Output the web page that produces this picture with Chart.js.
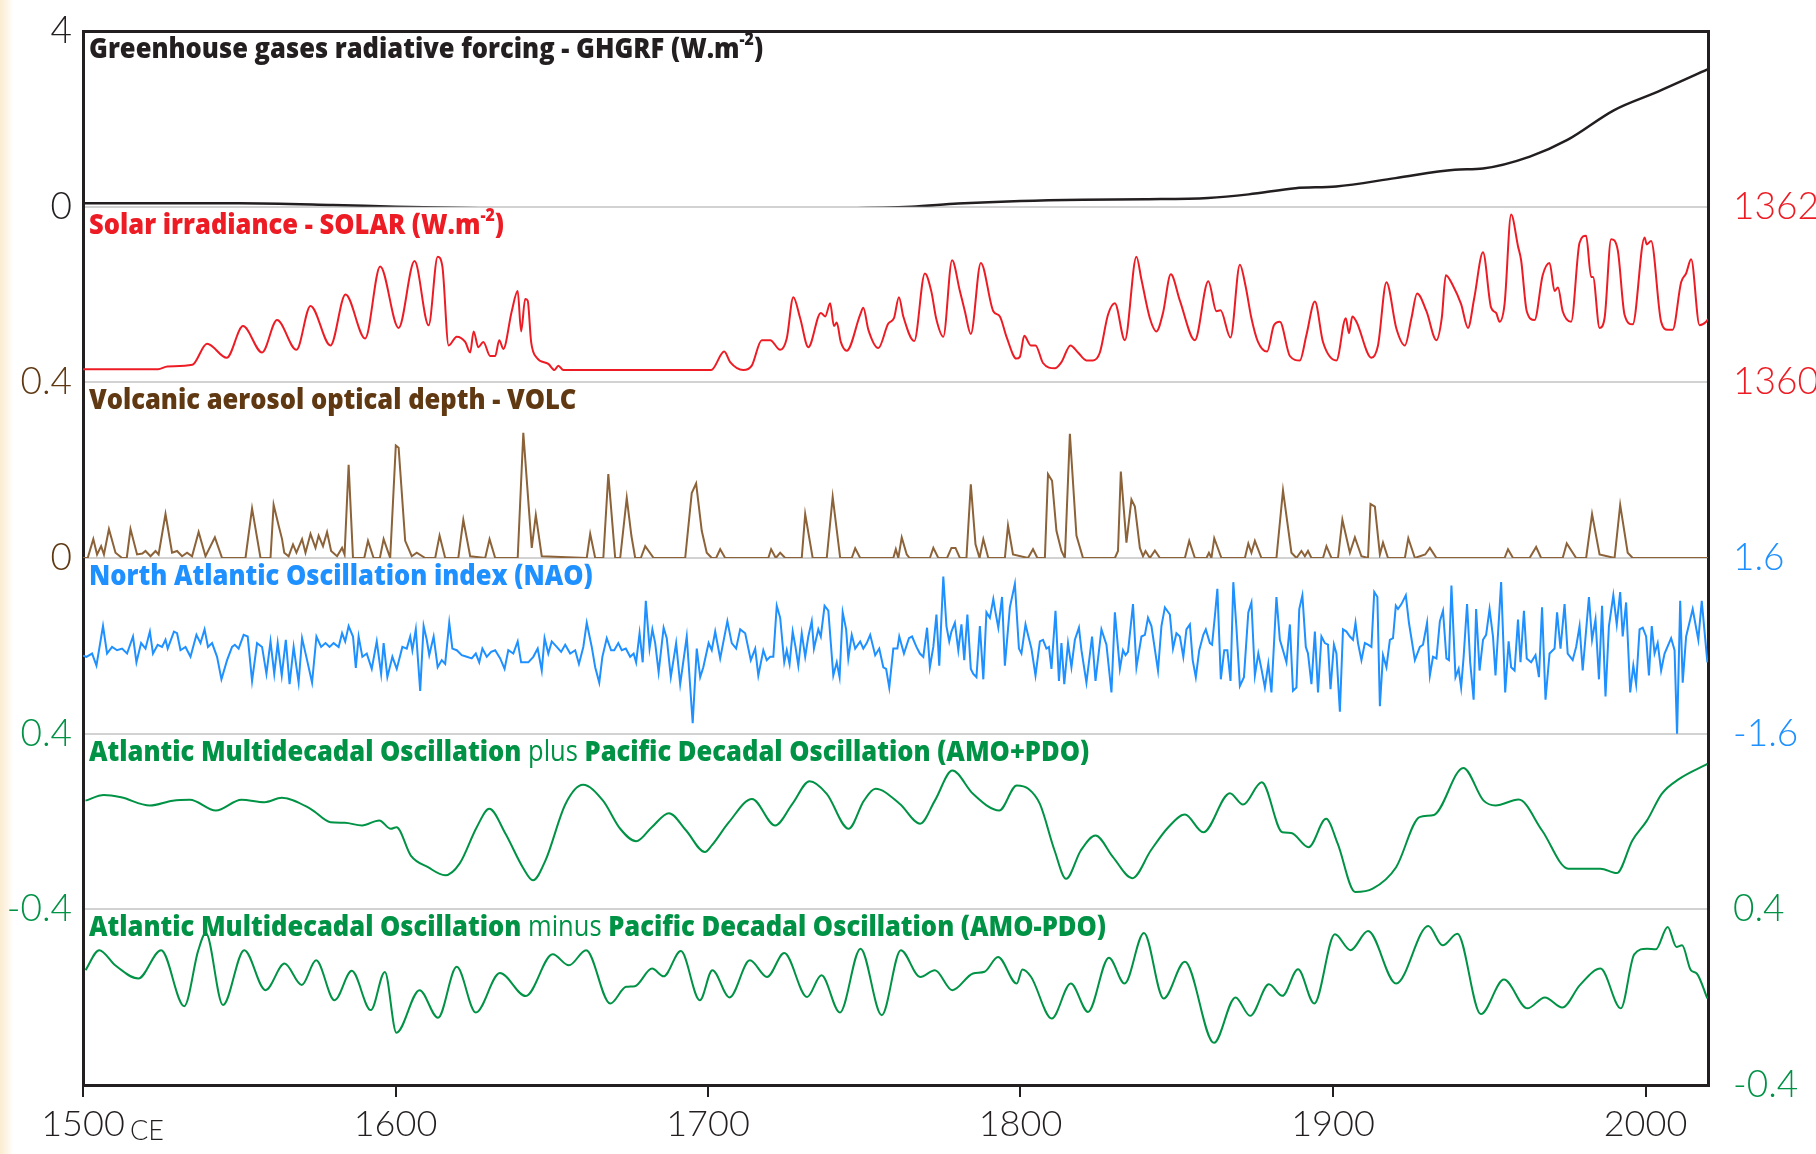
<!DOCTYPE html>
<html>
<head>
<meta charset="utf-8">
<script src="https://cdn.jsdelivr.net/npm/chart.js@4.4.1/dist/chart.umd.min.js"></script>
<style>
  html, body { margin: 0; padding: 0; }
  body {
    width: 1816px; height: 1154px; overflow: hidden;
    background: linear-gradient(to right, #fbecd0 0px, #fdf5e6 7px, #ffffff 13px);
  }
  canvas { display: block; }
</style>
</head>
<body>
<canvas id="chart" width="1816" height="1154"></canvas>
<script>
// x axis ticks
const xTickYears = [1500, 1600, 1700, 1800, 1900, 2000];

// greenhouse gases radiative forcing (W/m2)
const ghgYears = [1500, 1520, 1550, 1580, 1600, 1630, 1660, 1700, 1740, 1765, 1780, 1800, 1820, 1840, 1860, 1873, 1888, 1901, 1920, 1939, 1948, 1963, 1975, 1990, 2004, 2020];
const ghgValues = [0.08, 0.08, 0.08, 0.04, 0.0, -0.04, -0.05, -0.05, -0.04, 0.0, 0.07, 0.13, 0.16, 0.17, 0.2, 0.28, 0.42, 0.46, 0.65, 0.84, 0.87, 1.14, 1.52, 2.2, 2.62, 3.13];

// solar irradiance (W/m2)
const solarYears = [
  1500, 1510, 1524, 1527, 1535, 1539.7, 1546, 1551.2, 1557.3, 1562.1,
  1568.3, 1572.8, 1579.2, 1584, 1590.3, 1595.1, 1601, 1606.1, 1610.6, 1613.5,
  1615, 1617, 1619.6, 1622.3, 1623.9, 1625, 1626.5, 1628.1, 1630.3, 1631.9,
  1633.2, 1634.5, 1637.2, 1639.1, 1640.2, 1641.5, 1642.3, 1643.4, 1645.2, 1648.9,
  1650.9, 1652.1, 1653.7, 1680, 1701, 1705.2, 1707.1, 1711.3, 1714, 1717.2,
  1719.9, 1723.1, 1725.2, 1727.3, 1729.5, 1732.1, 1736.1, 1737.5, 1739.1, 1740.3,
  1741.2, 1742.5, 1744.4, 1748.7, 1749.7, 1751.3, 1754.5, 1757.7, 1759.5, 1761.1,
  1762.5, 1766, 1769.4, 1771.5, 1773, 1775.3, 1778.1, 1780.6, 1782.2, 1784.1,
  1787.3, 1791.3, 1793.4, 1795.5, 1798.7, 1799.8, 1801.2, 1803.3, 1804.8, 1807.2,
  1811, 1813.1, 1816, 1818.4, 1821.1, 1823.2, 1825.4, 1828, 1830.2, 1833.4,
  1837.1, 1838.7, 1841.4, 1843.5, 1845.6, 1848.1, 1851, 1855.8, 1860.1, 1862.7,
  1864, 1867.2, 1870.2, 1872, 1873.9, 1876, 1878.9, 1881.1, 1883, 1886.2,
  1889.4, 1891.5, 1894.2, 1896.8, 1901.1, 1904.1, 1905.1, 1906.2, 1907.5, 1912.3,
  1914.4, 1917.1, 1920.3, 1923, 1925.1, 1926.9, 1929.9, 1933.1, 1934.8, 1936.1,
  1938.4, 1941, 1943.2, 1945.2, 1948, 1950.6, 1952.2, 1953.3, 1954.9, 1957,
  1959.2, 1960.2, 1962, 1964.5, 1967.1, 1969.3, 1970.9, 1972, 1973.5, 1976.2,
  1978.9, 1981, 1982.6, 1983.2, 1985.3, 1986.9, 1989, 1991.1, 1993.3, 1995.9,
  1999.7, 2000.4, 2001.8, 2005, 2007.1, 2008.7, 2011.4, 2013, 2014.6, 2017.3,
  2019.4, 2020
];
const solarValues = [
  1360.15, 1360.15, 1360.15, 1360.18, 1360.2, 1360.44, 1360.28, 1360.64, 1360.34, 1360.71,
  1360.37, 1360.87, 1360.42, 1361.0, 1360.5, 1361.32, 1360.62, 1361.38, 1360.65, 1361.43,
  1361.32, 1360.42, 1360.52, 1360.46, 1360.34, 1360.58, 1360.4, 1360.46, 1360.3, 1360.3,
  1360.48, 1360.38, 1360.81, 1361.04, 1360.58, 1360.95, 1360.93, 1360.46, 1360.28, 1360.21,
  1360.14, 1360.19, 1360.14, 1360.14, 1360.14, 1360.35, 1360.23, 1360.14, 1360.19, 1360.48,
  1360.48, 1360.37, 1360.5, 1360.97, 1360.73, 1360.4, 1360.79, 1360.75, 1360.9, 1360.64,
  1360.68, 1360.46, 1360.36, 1360.77, 1360.85, 1360.6, 1360.39, 1360.67, 1360.73, 1360.97,
  1360.75, 1360.47, 1361.24, 1361.03, 1360.73, 1360.52, 1361.39, 1361.04, 1360.81, 1360.55,
  1361.36, 1360.81, 1360.75, 1360.52, 1360.27, 1360.29, 1360.53, 1360.42, 1360.42, 1360.22,
  1360.16, 1360.23, 1360.42, 1360.34, 1360.25, 1360.25, 1360.34, 1360.77, 1360.9, 1360.48,
  1361.43, 1361.17, 1360.73, 1360.58, 1360.79, 1361.23, 1360.93, 1360.48, 1361.15, 1360.81,
  1360.82, 1360.51, 1361.34, 1361.1, 1360.73, 1360.46, 1360.35, 1360.65, 1360.69, 1360.3,
  1360.25, 1360.54, 1360.92, 1360.46, 1360.25, 1360.73, 1360.56, 1360.75, 1360.69, 1360.28,
  1360.42, 1361.14, 1360.61, 1360.42, 1360.73, 1361.01, 1360.81, 1360.48, 1360.73, 1361.22,
  1361.1, 1360.89, 1360.62, 1360.96, 1361.48, 1360.85, 1360.79, 1360.69, 1360.89, 1361.91,
  1361.55, 1361.39, 1360.81, 1360.71, 1361.22, 1361.36, 1361.04, 1361.08, 1360.81, 1360.69,
  1361.59, 1361.67, 1361.2, 1361.2, 1360.62, 1360.73, 1361.63, 1361.51, 1360.77, 1360.66,
  1361.65, 1361.57, 1361.61, 1360.69, 1360.6, 1360.6, 1361.14, 1361.24, 1361.4, 1360.65,
  1360.69, 1360.72
];

// volcanic aerosol optical depth
const volcYears = [
  1500, 1501.5, 1503.3, 1504.5, 1505.8, 1506.7, 1508.3, 1510.4, 1512.5, 1514,
  1515.2, 1517.3, 1519, 1520, 1521.6, 1523.2, 1524.2, 1526.4, 1528.5, 1530.1,
  1531.7, 1533.3, 1534.9, 1537, 1539.2, 1542.2, 1544.5, 1552, 1554.1, 1556.8,
  1560, 1561, 1562.6, 1563.7, 1564.4, 1565.8, 1567.2, 1568.3, 1570.1, 1571.2,
  1572.8, 1574.4, 1575.4, 1576.8, 1578.1, 1579.4, 1581.3, 1582.9, 1583.7, 1585,
  1586.4, 1590, 1591.2, 1593, 1595, 1596.2, 1598.3, 1600.1, 1601, 1603.1,
  1605.2, 1606.8, 1609.5, 1612.7, 1614.1, 1615.9, 1620.1, 1621.7, 1623.9, 1628.7,
  1630.1, 1631.9, 1639.1, 1640.9, 1643.6, 1644.9, 1646.8, 1661.2, 1662.3, 1663.9,
  1666.5, 1668.1, 1670.3, 1671.9, 1674, 1675.5, 1676.7, 1678.5, 1679.9, 1682.6,
  1692.7, 1694.8, 1696.2, 1698, 1699.6, 1701.2, 1702.6, 1703.9, 1705.5, 1719.3,
  1720.2, 1721.7, 1723.1, 1724.7, 1730, 1731.1, 1733.5, 1738, 1739.9, 1742.3,
  1746, 1747.1, 1748.7, 1759.3, 1760.1, 1760.9, 1762, 1763.6, 1764.5, 1771,
  1772.1, 1773.7, 1776.5, 1777.9, 1779.2, 1780.6, 1782.7, 1784.1, 1785.6, 1786.9,
  1788.1, 1789.7, 1795, 1796, 1797.6, 1802.4, 1804, 1805.4, 1807.8, 1808.8,
  1810.1, 1811.5, 1813.1, 1814.2, 1815.8, 1817.9, 1820, 1830.2, 1831.2, 1832.1,
  1833.9, 1835.5, 1836.6, 1838.2, 1839.2, 1840, 1841.4, 1843, 1844.6, 1852.6,
  1854, 1855.8, 1859.5, 1860.3, 1861.1, 1862, 1864.3, 1871.8, 1872.9, 1873.9,
  1875, 1877.1, 1881.9, 1884, 1886.7, 1888.3, 1889.9, 1891, 1892, 1893.1,
  1896.8, 1897.9, 1899.5, 1901.6, 1903, 1905.4, 1907, 1909.1, 1911.2, 1912,
  1913.4, 1915, 1916, 1917.6, 1923, 1924.1, 1926.2, 1929.5, 1931, 1933.1,
  1954.9, 1956, 1957.6, 1962.9, 1965, 1966.6, 1973.5, 1974.8, 1977.8, 1981,
  1982.9, 1985.3, 1990.1, 1991.9, 1994.3, 1995.9, 2020
];
const volcValues = [
  0, 0, 0.043, 0.008, 0.027, 0.008, 0.066, 0.012, 0, 0,
  0.066, 0.008, 0.01, 0.016, 0.004, 0.016, 0.008, 0.10, 0.012, 0.016,
  0.004, 0.012, 0.004, 0.059, 0.004, 0.047, 0, 0, 0.113, 0,
  0, 0.121, 0.074, 0.043, 0.012, 0.004, 0.031, 0.012, 0.043, 0.012,
  0.055, 0.023, 0.051, 0.027, 0.059, 0.016, 0.004, 0.023, 0.008, 0.212,
  0, 0, 0.039, 0, 0, 0.043, 0, 0.256, 0.251, 0.039,
  0.004, 0.012, 0, 0, 0.051, 0, 0, 0.087, 0.004, 0,
  0.043, 0, 0, 0.285, 0.023, 0.098, 0.004, 0, 0.055, 0,
  0, 0.191, 0, 0, 0.137, 0.05, 0, 0, 0.027, 0,
  0, 0.148, 0.17, 0.062, 0.012, 0, 0, 0.02, 0, 0,
  0.02, 0, 0.012, 0, 0, 0.10, 0, 0, 0.139, 0,
  0, 0.022, 0, 0, 0.02, 0, 0.047, 0.008, 0, 0,
  0.023, 0, 0, 0.023, 0.023, 0, 0, 0.168, 0.031, 0,
  0.043, 0, 0, 0.074, 0.008, 0, 0.02, 0, 0, 0.191,
  0.176, 0.062, 0.016, 0, 0.283, 0.051, 0, 0, 0.016, 0.197,
  0.035, 0.133, 0.117, 0.023, 0.004, 0.016, 0, 0.017, 0, 0,
  0.039, 0, 0, 0.012, 0, 0.045, 0, 0, 0.033, 0.012,
  0.039, 0, 0, 0.154, 0.012, 0, 0.016, 0.004, 0.016, 0,
  0, 0.027, 0, 0, 0.087, 0.012, 0.047, 0.004, 0, 0.123,
  0.117, 0.008, 0.035, 0, 0, 0.045, 0, 0.008, 0.023, 0,
  0, 0.02, 0, 0, 0.025, 0, 0, 0.033, 0, 0,
  0.10, 0.008, 0, 0.121, 0.012, 0, 0
];

// North Atlantic Oscillation index
const naoYears = [
  1500.0, 1501.1, 1502.9, 1504.3, 1506.4, 1507.7, 1509.3, 1510.9, 1512.5, 1514.1,
  1516.0, 1517.1, 1518.6, 1520.0, 1521.4, 1522.4, 1523.9, 1525.3, 1526.4, 1527.1,
  1529.1, 1530.1, 1531.2, 1532.8, 1534.4, 1536.3, 1537.6, 1538.9, 1540.0, 1541.3,
  1542.9, 1544.3, 1546.1, 1547.7, 1548.6, 1549.8, 1551.4, 1552.7, 1554.1, 1555.7,
  1557.3, 1558.7, 1560.0, 1561.2, 1562.3, 1563.6, 1564.9, 1566.1, 1567.4, 1569.0,
  1570.1, 1571.7, 1573.3, 1574.7, 1576.2, 1577.6, 1578.9, 1580.2, 1581.8, 1582.9,
  1583.9, 1585.0, 1586.4, 1587.3, 1588.2, 1589.4, 1590.8, 1592.4, 1594.0, 1595.4,
  1596.2, 1597.4, 1599.0, 1600.4, 1602.2, 1603.6, 1604.7, 1605.4, 1606.5, 1607.9,
  1609.0, 1610.0, 1610.8, 1612.2, 1613.5, 1614.8, 1615.9, 1617.2, 1618.2, 1619.6,
  1621.2, 1622.8, 1624.4, 1625.7, 1626.8, 1627.8, 1629.2, 1630.6, 1631.9, 1633.5,
  1634.9, 1636.1, 1637.7, 1639.1, 1640.2, 1642.5, 1644.1, 1645.5, 1646.8, 1647.7,
  1648.9, 1650.0, 1651.6, 1653.0, 1654.3, 1655.9, 1657.5, 1658.7, 1660.1, 1661.2,
  1662.8, 1663.9, 1665.2, 1666.2, 1667.6, 1669.0, 1670.0, 1671.3, 1672.4, 1673.7,
  1675.1, 1676.2, 1677.0, 1678.1, 1679.1, 1680.1, 1681.3, 1682.2, 1683.1, 1684.2,
  1685.8, 1686.8, 1688.1, 1689.8, 1691.1, 1693.2, 1695.1, 1696.4, 1697.5, 1698.5,
  1700.2, 1701.2, 1702.3, 1703.9, 1706.2, 1707.6, 1709.0, 1710.3, 1711.9, 1713.7,
  1715.1, 1716.1, 1717.7, 1718.8, 1719.9, 1720.9, 1722.0, 1723.1, 1724.4, 1725.2,
  1726.1, 1727.1, 1728.0, 1728.9, 1730.0, 1731.1, 1732.1, 1733.2, 1733.9, 1735.3,
  1736.1, 1737.3, 1738.5, 1740.1, 1741.2, 1742.1, 1743.1, 1744.2, 1744.9, 1746.0,
  1747.1, 1748.7, 1749.7, 1750.8, 1751.9, 1753.5, 1754.8, 1756.1, 1757.0, 1758.0,
  1759.3, 1760.6, 1761.2, 1762.7, 1764.3, 1765.3, 1766.7, 1767.8, 1768.9, 1770.1,
  1771.0, 1772.1, 1773.1, 1774.0, 1775.3, 1776.3, 1777.2, 1777.9, 1779.0, 1780.1,
  1781.1, 1782.0, 1783.0, 1784.1, 1784.9, 1785.9, 1787.0, 1788.1, 1789.1, 1790.2,
  1791.3, 1792.0, 1792.9, 1794.1, 1795.0, 1796.6, 1798.2, 1799.5, 1800.3, 1801.6,
  1802.4, 1803.5, 1804.8, 1806.2, 1807.2, 1808.3, 1809.1, 1809.9, 1811.2, 1812.3,
  1813.1, 1814.0, 1815.2, 1816.3, 1817.4, 1818.7, 1819.5, 1821.1, 1822.9, 1824.0,
  1825.9, 1827.5, 1829.1, 1830.2, 1831.8, 1832.8, 1833.6, 1834.4, 1836.0, 1837.1,
  1838.7, 1839.8, 1840.8, 1841.9, 1844.0, 1845.1, 1846.2, 1847.8, 1848.8, 1849.9,
  1851.0, 1852.1, 1853.1, 1854.2, 1855.1, 1856.1, 1857.2, 1858.5, 1859.3, 1860.6,
  1861.3, 1862.2, 1863.0, 1864.1, 1865.2, 1866.2, 1867.2, 1868.1, 1869.1, 1870.2,
  1871.5, 1872.9, 1873.9, 1875.0, 1876.1, 1877.1, 1878.2, 1879.3, 1880.3, 1881.9,
  1883.0, 1884.0, 1885.1, 1886.2, 1887.2, 1888.3, 1889.2, 1890.2, 1891.3, 1892.0,
  1893.1, 1894.2, 1895.2, 1896.3, 1897.4, 1898.4, 1899.2, 1900.3, 1901.1, 1902.2,
  1903.2, 1904.3, 1905.4, 1906.4, 1907.2, 1908.0, 1909.1, 1910.2, 1911.2, 1912.3,
  1913.2, 1914.2, 1915.0, 1916.0, 1917.1, 1918.2, 1919.2, 1920.1, 1920.8, 1921.9,
  1923.3, 1924.3, 1926.2, 1927.8, 1928.8, 1930.1, 1931.0, 1932.0, 1933.1, 1934.2,
  1935.2, 1936.3, 1937.1, 1937.9, 1939.2, 1940.2, 1941.0, 1941.8, 1942.9, 1943.9,
  1945.0, 1945.8, 1946.9, 1948.0, 1949.0, 1950.1, 1951.2, 1952.0, 1953.8, 1955.1,
  1956.2, 1957.0, 1958.1, 1959.2, 1960.0, 1961.1, 1962.0, 1963.4, 1964.8, 1965.9,
  1966.9, 1968.0, 1969.3, 1970.9, 1971.7, 1972.8, 1974.1, 1975.1, 1976.7, 1977.8,
  1978.9, 1979.9, 1981.9, 1982.9, 1984.0, 1985.1, 1986.1, 1987.2, 1988.3, 1989.7,
  1990.8, 1991.9, 1992.7, 1993.8, 1995.1, 1996.1, 1997.0, 1998.1, 1999.1, 2000.2,
  2001.1, 2002.0, 2002.9, 2003.9, 2005.0, 2006.1, 2008.2, 2009.3, 2010.1, 2011.1,
  2011.9, 2013.0, 2015.1, 2016.9, 2018.0, 2019.8
];
const naoValues = [
  -0.18, -0.20, -0.14, -0.36, 0.36, -0.14, -0.02, -0.08, -0.05, -0.14,
  0.17, -0.30, 0.05, -0.05, 0.26, -0.14, 0.02, -0.02, 0.11, -0.05,
  0.26, 0.23, -0.08, -0.02, -0.20, 0.20, 0.05, 0.30, -0.02, 0.05,
  -0.20, -0.61, -0.26, -0.02, 0.02, -0.05, 0.20, 0.17, -0.64, 0.05,
  -0.02, -0.51, 0.08, -0.51, 0.05, -0.54, 0.11, -0.70, -0.02, -0.67,
  0.14, -0.26, -0.67, 0.17, -0.02, 0.05, -0.02, 0.05, -0.02, 0.23,
  0.08, 0.36, 0.17, -0.40, 0.17, -0.20, -0.14, -0.42, 0.08, -0.51,
  0.05, -0.57, -0.20, -0.42, -0.02, -0.05, 0.17, -0.08, 0.30, -0.82,
  0.36, 0.11, -0.17, 0.17, -0.39, -0.26, -0.33, 0.42, -0.05, -0.08,
  -0.17, -0.20, -0.23, -0.14, -0.30, -0.05, -0.20, -0.11, -0.08, -0.23,
  -0.42, -0.08, -0.14, 0.08, -0.30, -0.30, -0.20, -0.05, -0.45, 0.14,
  -0.14, 0.08, -0.02, -0.11, 0.02, -0.14, -0.08, -0.33, -0.02, 0.42,
  -0.02, -0.39, -0.67, -0.20, 0.14, -0.08, -0.08, 0.05, -0.08, -0.05,
  -0.20, -0.14, -0.30, 0.23, -0.30, 0.82, -0.05, 0.30, 0.05, -0.48,
  0.33, 0.14, -0.57, 0.05, -0.70, 0.17, -1.41, -0.05, -0.57, -0.39,
  0.05, -0.08, 0.26, -0.23, 0.45, 0.05, -0.05, 0.30, 0.23, -0.26,
  -0.05, -0.54, -0.08, -0.26, -0.20, -0.20, 0.73, 0.51, -0.30, -0.08,
  -0.33, 0.26, -0.02, -0.36, 0.23, -0.20, 0.17, 0.45, -0.05, 0.30,
  0.17, 0.73, 0.64, -0.54, -0.30, -0.57, 0.61, 0.30, -0.23, 0.20,
  -0.05, 0.08, -0.05, 0.05, 0.20, -0.17, -0.05, -0.39, -0.42, -0.76,
  -0.05, -0.05, 0.17, -0.14, 0.14, 0.17, -0.02, -0.14, -0.20, 0.33,
  -0.39, -0.02, 0.57, -0.36, 1.26, 0.36, 0.08, 0.26, 0.42, -0.08,
  0.39, -0.26, 0.57, -0.42, -0.51, -0.57, 0.36, -0.61, 0.61, 0.51,
  0.85, 0.61, 0.33, 0.89, -0.36, 0.70, 1.13, -0.05, -0.14, 0.39,
  0.20, -0.05, -0.54, 0.08, 0.11, -0.05, -0.02, -0.42, 0.64, -0.64,
  0.05, -0.70, 0.05, -0.39, 0.11, 0.33, -0.08, -0.67, 0.17, -0.64,
  0.30, 0.02, -0.85, 0.61, -0.42, -0.08, -0.17, -0.11, 0.76, -0.39,
  0.17, 0.20, 0.51, 0.36, -0.45, 0.36, 0.70, 0.57, -0.05, 0.23,
  0.17, -0.20, 0.30, 0.39, -0.26, -0.57, -0.08, 0.20, 0.30, 0.05,
  0.02, 0.54, 1.04, -0.61, -0.08, -0.08, -0.64, 1.16, 0.33, -0.73,
  -0.57, 0.61, 0.79, -0.54, -0.14, -0.42, -0.76, -0.33, -0.85, 0.89,
  0.11, -0.08, -0.30, 0.39, -0.82, -0.76, 0.67, 0.92, -0.02, -0.14,
  -0.70, 0.26, -0.85, 0.17, 0.05, 0.02, -0.79, 0.02, -0.14, -1.20,
  0.30, 0.26, 0.17, 0.11, 0.42, 0.05, -0.26, 0.05, 0.02, -0.02,
  0.98, 0.89, -1.10, -0.17, -0.39, 0.11, 0.14, 0.73, 0.67, 0.76,
  0.92, 0.42, -0.26, -0.02, 0.02, 0.42, -0.54, -0.20, -0.23, 0.45,
  0.64, -0.23, -0.26, 1.10, -0.57, -0.42, -0.76, -0.20, 0.76, -0.30,
  -0.98, 0.67, -0.45, 0.11, 0.20, 0.67, 0.17, -0.54, 1.16, -0.85,
  0.08, -0.39, -0.45, 0.48, -0.30, 0.64, -0.23, -0.30, -0.17, -0.57,
  0.70, -0.98, -0.14, -0.05, 0.61, -0.05, 0.76, -0.14, -0.26, -0.02,
  0.36, -0.45, 0.89, 0.11, 0.48, -0.61, 0.73, -0.92, 0.36, 0.92,
  0.39, 0.98, 0.17, 0.79, -0.85, -0.36, -0.70, 0.30, 0.33, 0.17,
  -0.54, 0.36, -0.14, 0.05, -0.45, -0.14, 0.14, -0.08, -1.63, 0.82,
  -0.67, 0.17, 0.67, 0.11, 0.82, -0.30
];

// Atlantic Multidecadal Oscillation plus Pacific Decadal Oscillation
const amoPlusYears = [
  1500.8, 1506.7, 1512.2, 1521.4, 1528.7, 1534.2, 1542.5, 1550.7, 1558.1, 1563.6,
  1572.8, 1579.2, 1583.8, 1589.3, 1594.8, 1598.5, 1600.3, 1604.9, 1610.4, 1615.9,
  1620.5, 1626, 1630, 1635.2, 1640.7, 1644, 1648, 1654.4, 1660, 1666.4,
  1671.9, 1677, 1682, 1687.5, 1693, 1699, 1701.2, 1706.7, 1714.1, 1721.5,
  1727, 1732.5, 1738, 1745, 1749.9, 1753.6, 1761.4, 1767.9, 1772.6, 1778.2,
  1784.8, 1793.2, 1798.8, 1802.5, 1806.2, 1810.9, 1814.6, 1819.3, 1824, 1829.6,
  1835.8, 1841.7, 1847.3, 1852.6, 1858.5, 1867, 1871.2, 1877.2, 1883.8, 1886.6,
  1892.2, 1897.8, 1901.5, 1907.1, 1912.7, 1920.2, 1927.7, 1932.3, 1941.7, 1948.2,
  1952, 1959.4, 1966.9, 1975.3, 1985.6, 1990.8, 1995.8, 2000.5, 2005.2, 2010.8,
  2019.8
];
const amoPlusValues = [
  0.095, 0.121, 0.11, 0.073, 0.095, 0.099, 0.05, 0.099, 0.088, 0.108,
  0.058, -0.003, -0.006, -0.018, 0.005, -0.033, -0.026, -0.155, -0.208, -0.245,
  -0.192, -0.026, 0.058, -0.056, -0.208, -0.268, -0.177, 0.08, 0.167, 0.095,
  -0.033, -0.09, -0.026, 0.038, -0.041, -0.139, -0.109, -0.003, 0.103, -0.018,
  0.08, 0.183, 0.126, -0.033, 0.095, 0.149, 0.08, -0.01, 0.095, 0.232,
  0.126, 0.05, 0.164, 0.149, 0.08, -0.132, -0.261, -0.132, -0.064, -0.162,
  -0.258, -0.132, -0.026, 0.032, -0.049, 0.129, 0.077, 0.179, -0.049, -0.052,
  -0.117, 0.012, -0.101, -0.321, -0.306, -0.208, 0.02, 0.03, 0.244, 0.095,
  0.073, 0.1, -0.041, -0.215, -0.215, -0.235, -0.086, 0.005, 0.126, 0.194,
  0.262
];

// Atlantic Multidecadal Oscillation minus Pacific Decadal Oscillation
const amoMinusYears = [
  1500.8, 1505.2, 1510.3, 1517.7, 1525, 1532.4, 1536.9, 1539.3, 1544.8, 1551.6,
  1558.4, 1564.5, 1570, 1574.6, 1580.5, 1586, 1592.1, 1596.6, 1600.3, 1607.7,
  1613.6, 1619.6, 1625.7, 1633.4, 1641.7, 1650.3, 1655.5, 1661, 1668.7, 1673.8,
  1676.6, 1682.1, 1685.8, 1691.3, 1697.4, 1701.4, 1706.9, 1713.4, 1718.9, 1724.4,
  1731.7, 1736.3, 1742.2, 1748.8, 1755.6, 1761.7, 1767.9, 1772.6, 1778.2, 1784.8,
  1788.5, 1792.8, 1798.8, 1800.6, 1803.4, 1810, 1816.1, 1821.6, 1828.3, 1833.3,
  1839.5, 1845.8, 1852.6, 1861.9, 1868.8, 1873.5, 1879.5, 1883.8, 1888.8, 1894,
  1900.6, 1905.6, 1911.2, 1920.2, 1930.5, 1935.1, 1939.8, 1947.3, 1954.7, 1962.2,
  1967.8, 1973.4, 1979, 1985.6, 1992.1, 1996.4, 2000.5, 2003.3, 2007.1, 2009.9,
  2011.7, 2014.5, 2016.4, 2019.8
];
const amoMinusValues = [
  0.123, 0.214, 0.145, 0.085, 0.214, -0.041, 0.214, 0.292, -0.036, 0.214,
  0.032, 0.153, 0.055, 0.168, -0.014, 0.12, -0.059, 0.115, -0.162, 0.032,
  -0.094, 0.138, -0.07, 0.11, 0.005, 0.195, 0.145, 0.214, -0.029, 0.047,
  0.05, 0.13, 0.095, 0.21, -0.014, 0.123, -0.001, 0.168, 0.092, 0.201,
  0.001, 0.1, -0.07, 0.221, -0.082, 0.214, 0.092, 0.123, 0.032, 0.108,
  0.116, 0.183, 0.062, 0.126, 0.092, -0.097, 0.062, -0.067, 0.18, 0.062,
  0.292, -0.006, 0.161, -0.208, -0.001, -0.085, 0.059, 0.006, 0.127, -0.029,
  0.286, 0.214, 0.301, 0.062, 0.324, 0.236, 0.289, -0.077, 0.08, -0.051,
  -0.001, -0.047, 0.055, 0.13, -0.051, 0.195, 0.221, 0.218, 0.32, 0.229,
  0.236, 0.123, 0.108, -0.006
];

const black = '#231f20';
const red = '#ed1c24';
const brownLine = '#8c6239';
const brown = '#603913';
const blue = '#1e90ff';
const green = '#009245';
const gridGray = '#d2d2d2';

const tickFont = { family: 'Lato', size: 37, weight: 300 };

function pts(xs, ys) {
    return xs.map((x, i) => ({ x: x, y: ys[i] }));
}

// fixed axis size, and no extra room asked for the end labels
function fixSize(pos) {
    return axis => {
        if (pos === 'bottom') axis.height = 69;
        else axis.width = pos === 'left' ? 83 : 108;
        axis.paddingTop = 0;
        axis.paddingBottom = 0;
    };
}

// one band of the stacked y axes, with labels only at both ends
function bandAxis(pos, weight, min, max, color, outer) {
    return {
        type: 'linear',
        position: pos,
        stack: 'bands',
        stackWeight: 1,
        weight: weight,
        min: min,
        max: max,
        afterBuildTicks: axis => { axis.ticks = [{ value: min }, { value: max }]; },
        afterFit: fixSize(pos),
        ticks: {
            color: color,
            font: tickFont,
            padding: pos === 'left' ? 11 : 25,
            callback: v => String(v)
        },
        grid: {
            drawTicks: false,
            color: c => (c.tick && c.tick.value === outer) ? black : gridGray,
            lineWidth: c => (c.tick && c.tick.value === outer) ? 3 : 2
        },
        border: { display: true, color: black, width: 3 }
    };
}

// empty band on the other side, only keeps the frame line going
function spacerAxis(pos, weight) {
    return {
        type: 'linear',
        position: pos,
        stack: 'bands',
        stackWeight: 1,
        weight: weight,
        min: 0,
        max: 1,
        afterFit: fixSize(pos),
        ticks: { display: false },
        grid: { display: false },
        border: { display: true, color: black, width: 3 }
    };
}

const bandTitles = [
    { axis: 'yGhg', color: black, parts: [['bold', 'Greenhouse gases radiative forcing - GHGRF (W.m'], ['sup', '-2'], ['bold', ')']] },
    { axis: 'ySolar', color: red, parts: [['bold', 'Solar irradiance - SOLAR (W.m'], ['sup', '-2'], ['bold', ')']] },
    { axis: 'yVolc', color: brown, parts: [['bold', 'Volcanic aerosol optical depth - VOLC']] },
    { axis: 'yNao', color: blue, parts: [['bold', 'North Atlantic Oscillation index (NAO)']] },
    { axis: 'yAmoPlus', color: green, parts: [['bold', 'Atlantic Multidecadal Oscillation'], ['normal', ' plus '], ['bold', 'Pacific Decadal Oscillation (AMO+PDO)']] },
    { axis: 'yAmoMinus', color: green, parts: [['bold', 'Atlantic Multidecadal Oscillation'], ['normal', ' minus '], ['bold', 'Pacific Decadal Oscillation (AMO-PDO)']] }
];
const titleSqueeze = 0.88;

const bandTitlePlugin = {
    id: 'bandTitles',
    beforeDatasetsDraw(chart) {
        const ctx = chart.ctx;
        bandTitles.forEach(t => {
            const axis = chart.scales[t.axis];
            ctx.save();
            ctx.translate(chart.chartArea.left + 6, axis.top + 27);
            ctx.scale(titleSqueeze, 1);
            ctx.fillStyle = t.color;
            ctx.textBaseline = 'alphabetic';
            let x = 0;
            t.parts.forEach(([style, text]) => {
                let dy = 0;
                if (style === 'sup') {
                    ctx.font = '800 18px "Open Sans"';
                    dy = -13;
                } else if (style === 'bold') {
                    ctx.font = '800 29px "Open Sans"';
                } else {
                    ctx.font = '400 29px "Open Sans"';
                }
                ctx.fillText(text, x, dy);
                x += ctx.measureText(text).width;
            });
            ctx.restore();
        });
    },
    afterDraw(chart) {
        // small "CE" after the first year label
        const ctx = chart.ctx;
        const xs = chart.scales.x;
        ctx.save();
        ctx.font = '300 27px Lato';
        ctx.fillStyle = black;
        ctx.textBaseline = 'alphabetic';
        ctx.fillText('CE', xs.getPixelForValue(1500) + 47, xs.top + 55);
        ctx.restore();
    }
};

function line(label, xs, ys, axisId, color, width, smooth) {
    return {
        label: label,
        data: pts(xs, ys),
        yAxisID: axisId,
        borderColor: color,
        borderWidth: width,
        pointRadius: 0,
        fill: false,
        tension: 0,
        cubicInterpolationMode: smooth ? 'monotone' : 'default'
    };
}

const config = {
    type: 'line',
    data: {
        datasets: [
            line('GHGRF', ghgYears, ghgValues, 'yGhg', black, 2.5, true),
            line('SOLAR', solarYears, solarValues, 'ySolar', red, 2, true),
            line('VOLC', volcYears, volcValues, 'yVolc', brownLine, 2, false),
            line('NAO', naoYears, naoValues, 'yNao', blue, 2, false),
            line('AMO+PDO', amoPlusYears, amoPlusValues, 'yAmoPlus', green, 2, true),
            line('AMO-PDO', amoMinusYears, amoMinusValues, 'yAmoMinus', green, 2, true)
        ]
    },
    options: {
        responsive: false,
        animation: false,
        layout: { padding: { top: 31, left: 0, right: 0, bottom: 0 } },
        plugins: {
            legend: { display: false },
            tooltip: { enabled: false }
        },
        scales: {
            x: {
                type: 'linear',
                position: 'bottom',
                z: 1,
                min: 1500,
                max: 2020,
                afterBuildTicks: axis => { axis.ticks = xTickYears.map(v => ({ value: v })); },
                afterFit: fixSize('bottom'),
                ticks: {
                    color: black,
                    font: { family: 'Lato', size: 36, weight: 300 },
                    padding: 6,
                    maxRotation: 0,
                    autoSkip: false,
                    callback: v => String(v)
                },
                grid: { drawOnChartArea: false, drawTicks: true, tickLength: 12, color: black, lineWidth: 2 },
                border: { display: true, color: black, width: 3 }
            },
            // left side, top to bottom
            yGhg: bandAxis('left', 6, 0, 4, black, 4),
            sL2: spacerAxis('left', 5),
            yVolc: bandAxis('left', 4, 0, 0.4, brown, null),
            sL4: spacerAxis('left', 3),
            yAmoPlus: bandAxis('left', 2, -0.4, 0.4, green, null),
            sL6: spacerAxis('left', 1),
            // right side, top to bottom
            sR1: spacerAxis('right', 1),
            ySolar: bandAxis('right', 2, 1360, 1362, red, null),
            sR3: spacerAxis('right', 3),
            yNao: bandAxis('right', 4, -1.6, 1.6, blue, null),
            sR5: spacerAxis('right', 5),
            yAmoMinus: bandAxis('right', 6, -0.4, 0.4, green, -0.4)
        }
    },
    plugins: [bandTitlePlugin]
};

let myChart = new Chart(document.getElementById('chart'), config);
</script>
</body>
</html>
